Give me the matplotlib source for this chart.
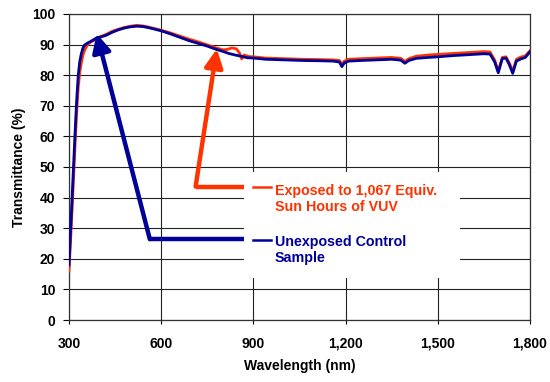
import matplotlib
matplotlib.use("Agg")
import matplotlib.pyplot as plt
from matplotlib.patches import Rectangle

plt.rcParams['font.family'] = ['Liberation Sans', 'DejaVu Sans']
plt.rcParams['font.weight'] = 'bold'

# wavelength (nm) and transmittance (%)
wl_exposed = [300, 305, 310, 315, 320, 325, 330, 335, 340, 345, 350, 360, 370, 380,
              390, 400, 420, 440, 460, 480, 500, 520, 540, 560, 580, 600, 630, 660,
              690, 720, 750, 780, 800, 815, 830, 845, 855, 862, 870, 885, 900, 940,
              1000, 1060, 1120, 1160, 1180, 1188, 1196, 1210, 1250, 1300, 1350, 1380,
              1393, 1406, 1430, 1470, 1500, 1550, 1600, 1650, 1670, 1685, 1697, 1710,
              1722, 1733, 1744, 1756, 1770, 1785, 1800]
t_exposed = [16, 26, 36, 47, 58, 68, 76, 81, 84, 86.5, 88, 90, 90.8, 91.3,
             92.0, 92.5, 93.3, 94.3, 95.0, 95.6, 96.0, 96.3, 96.1, 95.7, 95.2, 94.7, 93.8, 92.8,
             91.8, 90.9, 89.9, 88.9, 88.3, 88.4, 88.9, 88.6, 87.2, 85.3, 86.6, 86.1, 86.0, 85.6,
             85.4, 85.2, 85.1, 85.0, 84.8, 83.5, 84.6, 85.2, 85.4, 85.6, 85.8, 85.5,
             84.5, 85.4, 86.2, 86.6, 86.8, 87.1, 87.4, 87.7, 87.6, 85.0, 81.4, 85.8,
             86.0, 84.0, 81.3, 85.2, 85.9, 86.3, 88.0]

wl_control = [300, 305, 310, 315, 320, 325, 330, 335, 340, 345, 350, 360, 370, 380,
              390, 400, 420, 440, 460, 480, 500, 520, 540, 560, 580, 600, 630, 660,
              690, 720, 750, 780, 800, 820, 840, 860, 880, 900, 940,
              1000, 1060, 1120, 1160, 1180, 1188, 1196, 1210, 1250, 1300, 1350, 1380,
              1393, 1406, 1430, 1470, 1500, 1550, 1600, 1650, 1670, 1685, 1697, 1710,
              1722, 1733, 1744, 1756, 1770, 1785, 1800]
t_control = [18, 29, 40, 51, 62, 72, 80, 84.5, 87, 88.8, 89.8, 90.5, 91.0, 91.6,
             92.2, 92.4, 93.0, 94.0, 94.8, 95.4, 95.8, 96.0, 95.9, 95.5, 95.0, 94.5, 93.5, 92.4,
             91.3, 90.4, 89.5, 88.4, 87.8, 87.1, 86.6, 86.2, 85.7, 85.6, 85.2,
             85.0, 84.8, 84.7, 84.6, 84.3, 82.8, 84.0, 84.6, 84.8, 85.0, 85.2, 84.9,
             83.9, 84.8, 85.5, 85.8, 86.0, 86.4, 86.7, 87.0, 86.9, 84.4, 80.8, 85.4,
             85.6, 83.4, 80.6, 84.6, 85.3, 85.8, 87.6]

# callout arrows: (x, y) path from legend to curve
arrow_red_x = [900, 712, 781]
arrow_red_y = [43.6, 43.6, 88.6]
arrow_blue_x = [900, 563, 390]
arrow_blue_y = [26.4, 26.4, 93.6]

label_exposed = "Exposed to 1,067 Equiv.\nSun Hours of VUV"
label_control = "Unexposed Control\nSample"

red = '#ff3300'
blue = '#000099'

fig = plt.figure(figsize=(5.5, 3.82), dpi=100)
ax = fig.add_axes([0.1255, 0.1623, 0.838, 0.8011])

ax.plot(wl_exposed, t_exposed, color=red, lw=2.0, zorder=3)
ax.plot(wl_control, t_control, color=blue, lw=2.0, zorder=3)

ax.set_xlim(300, 1800)
ax.set_ylim(0, 100)
ax.set_xticks(range(300, 1801, 300))
ax.set_xticklabels([f"{v:,}" for v in range(300, 1801, 300)])
ax.set_yticks(range(0, 101, 10))
ax.grid(True, color='#222222', lw=0.8, zorder=0)
ax.set_axisbelow(True)
for s in ax.spines.values():
    s.set_color('#333333')
    s.set_linewidth(0.9)
ax.tick_params(axis='y', length=4, width=0.8, pad=6, labelsize=10)
ax.tick_params(axis='x', length=3, width=0.8, pad=9, labelsize=10)

ax.set_xlabel("Wavelength (nm)", fontsize=10, fontweight='bold', labelpad=6)
ax.set_ylabel("Transmittance (%)", fontsize=10, fontweight='bold', labelpad=4)

# arrows
for xs, ys, c in [(arrow_red_x, arrow_red_y, red), (arrow_blue_x, arrow_blue_y, blue)]:
    ax.plot(xs[:2], ys[:2], color=c, lw=3.2, solid_capstyle='butt', zorder=4)
    ax.annotate("", xy=(xs[2], ys[2]), xytext=(xs[1], ys[1]),
                arrowprops=dict(arrowstyle='-|>,head_length=1.1,head_width=0.55',
                                color=c, lw=3.2, shrinkA=0, shrinkB=0),
                zorder=4)

# legend box
ax.add_patch(Rectangle((0.38, 0.137), 0.468, 0.347, transform=ax.transAxes,
                       facecolor='white', edgecolor='none', zorder=5))
ax.plot([0.399, 0.438], [0.435, 0.435], transform=ax.transAxes, color=red, lw=1.8, zorder=6)
ax.plot([0.399, 0.438], [0.262, 0.262], transform=ax.transAxes, color=blue, lw=1.8, zorder=6)
ax.text(0.446, 0.356, label_exposed, transform=ax.transAxes, color=red,
        fontsize=10.3, fontweight='bold', va='baseline', ha='left', zorder=7)
ax.text(0.446, 0.190, label_control, transform=ax.transAxes, color=blue,
        fontsize=10.3, fontweight='bold', va='baseline', ha='left', zorder=7)

fig.savefig("out.png", dpi=100)
